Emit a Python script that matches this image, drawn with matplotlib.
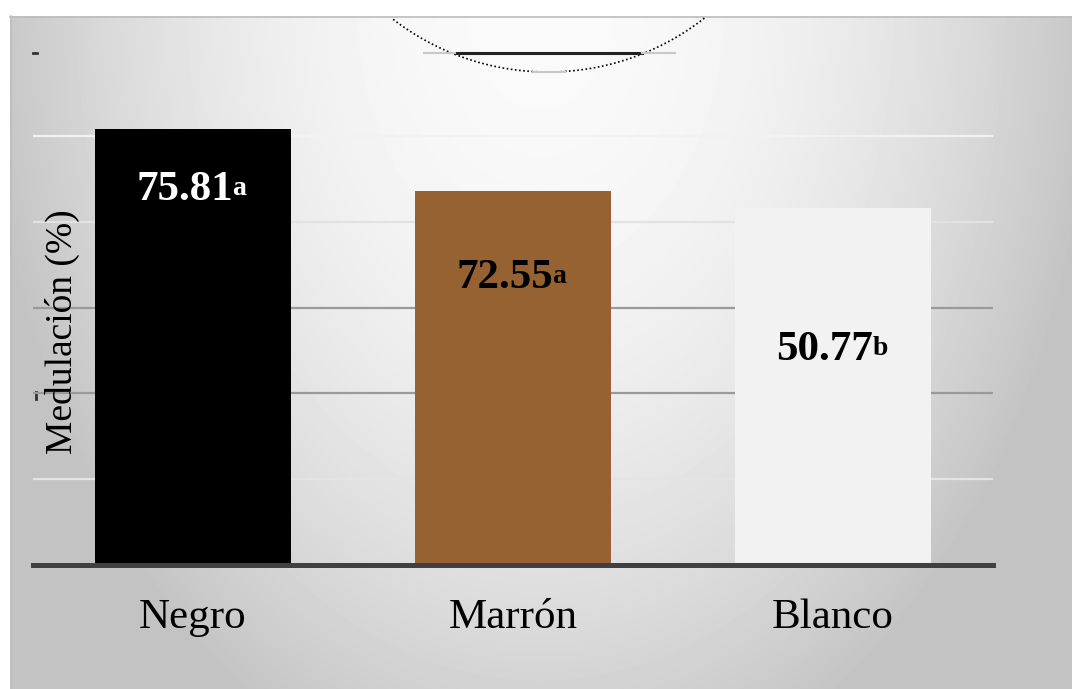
import numpy as np
import matplotlib
matplotlib.use("Agg")
import matplotlib.pyplot as plt

# data
categories = ["Negro", "Marrón", "Blanco"]
bar_heights = [101.6, 87.2, 83.2]
value_labels = ["75.81", "72.55", "50.77"]
letters = ["a", "a", "b"]
bar_colors = ["#000000", "#976232", "#f2f2f2"]
text_colors = ["white", "black", "black"]

plt.rcParams['font.family'] = ['Liberation Serif', 'DejaVu Serif']

W, H = 1072, 689
fig = plt.figure(figsize=(W / 100, H / 100), dpi=100)
fig.patch.set_facecolor("white")

# background panel with soft radial gradient
bg = fig.add_axes([0, 0, 1, 1])
bg.set_xlim(0, W)
bg.set_ylim(H, 0)
bg.axis("off")
xx, yy = np.meshgrid(np.arange(10, W), np.arange(16, H))
d = np.sqrt(((xx - 540) / 560.0) ** 2 + (yy / 820.0) ** 2)
grad = np.clip(250 - 55 * d ** 2.0, 195, 250) / 255.0
bg.imshow(grad, extent=(10, W, H, 16), cmap="gray", vmin=0, vmax=1,
          aspect="auto", interpolation="bilinear")
bg.plot([10, W], [16.5, 16.5], color="#bdbdbd", lw=1.2)
bg.plot([10.5, 10.5], [16, H], color="#bdbdbd", lw=1.2)

# odd circle fragment at the top
t = np.linspace(np.radians(52), np.radians(128), 120)
cx, cy, r = 548, -182, 254
bg.plot(cx + r * np.cos(t), cy + r * np.sin(t), color="black", lw=1.2,
        ls=(0, (1, 1.5)))
bg.plot([455, 642], [53, 53], color="#222222", lw=2.2)
bg.plot([424, 455], [53, 53], color="#c8c8c8", lw=1.5)
bg.plot([642, 675], [53, 53], color="#c8c8c8", lw=1.5)
bg.plot([533, 565], [72, 72], color="#c8c8c8", lw=1.5)
bg.plot([33, 37], [53, 53], color="#333333", lw=2)
bg.plot([36, 36], [392, 399], color="#333333", lw=2)

# main chart
ax = fig.add_axes([33 / W, (H - 565) / H, 960 / W, (565 - 16) / H])
ax.patch.set_alpha(0)
x = np.arange(len(categories))
ax.bar(x, bar_heights, width=0.61, color=bar_colors, zorder=3)
ax.set_xlim(-0.5, 2.5)
ax.set_ylim(0, 128)
ax.set_yticks([20, 40, 60, 80, 100])
ax.yaxis.grid(True, zorder=0)
grid_cols = ["#e4e4e4", "#9a9a9a", "#9a9a9a", "#e2e2e2", "#f2f2f2"]
for gl, c in zip(ax.get_ygridlines(), grid_cols):
    gl.set_color(c)
    gl.set_linewidth(1.6)
ax.tick_params(axis="y", length=0, labelleft=False)
ax.tick_params(axis="x", length=0, pad=24, labelsize=31)
ax.set_xticks(x)
ax.set_xticklabels(categories)
for s in ["top", "right", "left"]:
    ax.spines[s].set_visible(False)
ax.spines["bottom"].set_color("#404040")
ax.spines["bottom"].set_linewidth(3.6)
ax.spines["bottom"].set_zorder(4)

label_y = [87.4, 66.9, 50.1]
for i in range(len(categories)):
    txt = ax.annotate(value_labels[i], xy=(x[i], label_y[i]), xytext=(-6, 0),
                      textcoords="offset points", ha="center", va="center",
                      fontsize=31, fontweight="bold", color=text_colors[i],
                      zorder=5)
    ax.annotate(letters[i], xy=(1, 0.88), xycoords=txt, xytext=(-0.5, 0),
                textcoords="offset points", ha="left", va="top",
                fontsize=20, fontweight="bold", color=text_colors[i], zorder=5)

fig.text(62 / W, 1 - 332 / H, "Medulación (%)", rotation=90, ha="center",
         va="center", fontsize=27)

fig.savefig("out.png", dpi=100)
